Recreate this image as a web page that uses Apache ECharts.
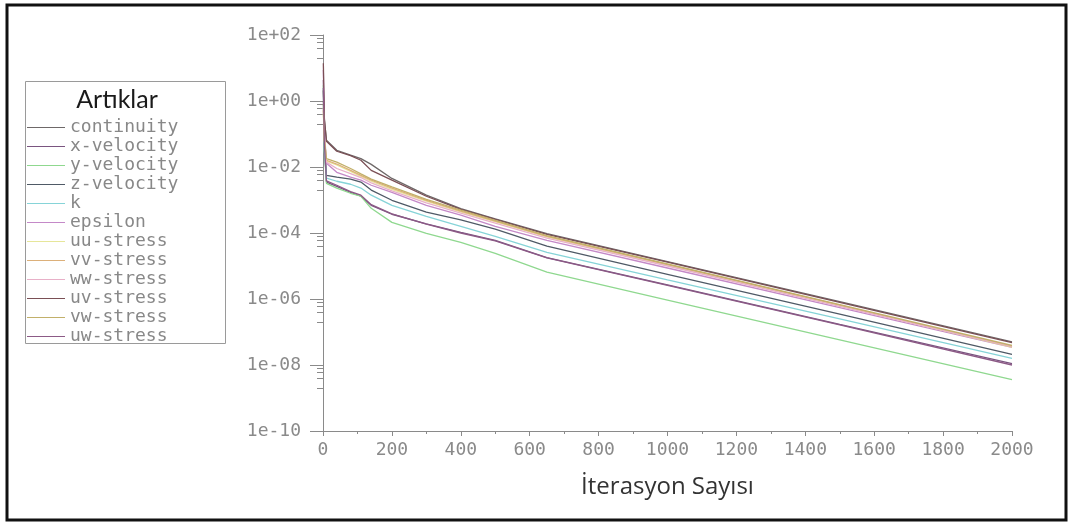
<!DOCTYPE html>
<html>
<head>
<meta charset="utf-8">
<script src="https://cdn.jsdelivr.net/npm/echarts@6/dist/echarts.min.js"></script>
<style>
  html, body { margin: 0; padding: 0; background: #fff; }
  #chart { width: 1070px; height: 524px; }
</style>
</head>
<body>
<div id="chart"></div>
<script>
const iters = [1, 4, 10, 40, 80, 110, 140, 200, 300, 400, 500, 650, 1000, 1500, 2000]

const continuity = [1.0, 0.26, 0.065, 0.032, 0.023, 0.018, 0.012, 0.0045, 1.4e-3, 5.5e-4, 2.7e-4, 9.5e-5, 1.35e-5, 8.3e-7, 5.0e-8]
const xVelocity = [4.3, 0.046, 0.0035, 0.0026, 0.0017, 0.0013, 6.9e-4, 3.7e-4, 1.9e-4, 1.05e-4, 6.0e-5, 1.8e-5, 2.7e-6, 1.7e-7, 1.1e-8]
const yVelocity = [3.0, 0.032, 0.0032, 0.0023, 0.0016, 0.0013, 5.6e-4, 2.1e-4, 9.8e-5, 5.2e-5, 2.4e-5, 6.5e-6, 9.3e-7, 5.8e-8, 3.6e-9]
const zVelocity = [2.1, 0.065, 0.0056, 0.0049, 0.0043, 0.0035, 0.002, 9.8e-4, 4.3e-4, 2.5e-4, 1.3e-4, 4.0e-5, 5.6e-6, 3.5e-7, 2.1e-8]
const kRes = [0.76, 0.032, 0.0046, 0.0037, 0.003, 0.0023, 0.0014, 6.9e-4, 3.2e-4, 1.6e-4, 7.9e-5, 2.6e-5, 3.8e-6, 2.5e-7, 1.6e-8]
const epsilon = [8.7, 0.13, 0.013, 0.0069, 0.0049, 0.004, 0.0028, 0.0017, 6.9e-4, 3.5e-4, 1.6e-4, 6.0e-5, 8.7e-6, 5.5e-7, 3.4e-8]
const uuStress = [0.4, 0.06, 0.015, 0.0115, 0.0074, 0.0052, 0.0037, 0.0021, 9.2e-4, 4.4e-4, 2.2e-4, 7.6e-5, 1.05e-5, 6.3e-7, 3.5e-8]
const vvStress = [0.52, 0.065, 0.016, 0.0123, 0.0079, 0.0056, 0.004, 0.0023, 9.8e-4, 4.6e-4, 2.3e-4, 7.9e-5, 1.1e-5, 6.5e-7, 3.6e-8]
const wwStress = [0.6, 0.09, 0.014, 0.009, 0.0063, 0.0048, 0.0033, 0.0019, 8.2e-4, 4.0e-4, 2.0e-4, 7.0e-5, 1.0e-5, 6.0e-7, 3.7e-8]
const uvStress = [14, 0.3, 0.06, 0.03, 0.022, 0.016, 0.0079, 0.004, 1.3e-3, 5.2e-4, 2.6e-4, 9.1e-5, 1.3e-5, 7.9e-7, 4.8e-8]
const vwStress = [0.8, 0.07, 0.018, 0.014, 0.009, 0.0062, 0.0043, 0.0025, 1.05e-3, 4.9e-4, 2.4e-4, 8.3e-5, 1.15e-5, 6.8e-7, 3.9e-8]
const uwStress = [2.5, 0.05, 0.0038, 0.0028, 0.0018, 0.0014, 7.2e-4, 3.8e-4, 1.85e-4, 1.0e-4, 5.8e-5, 1.75e-5, 2.6e-6, 1.65e-7, 1.0e-8]

const names = ['continuity', 'x-velocity', 'y-velocity', 'z-velocity', 'k', 'epsilon',
  'uu-stress', 'vv-stress', 'ww-stress', 'uv-stress', 'vw-stress', 'uw-stress']
const values = [continuity, xVelocity, yVelocity, zVelocity, kRes, epsilon,
  uuStress, vvStress, wwStress, uvStress, vwStress, uwStress]
const colors = ['#6e6868', '#7a5580', '#8fd88f', '#4f5a66', '#86d4d8', '#c489c8',
  '#e6e69a', '#dcb07a', '#e8b0c8', '#7a4f55', '#c2b06a', '#8c5a86']

// y tick labels (log axis)
const yTicks = [1e2, 1e0, 1e-2, 1e-4, 1e-6, 1e-8, 1e-10]
// small ticks: 2,4,6,8 x 10^(e-1) below each labelled tick
const yMinorTicks = []
yTicks.forEach(t => {
  if (t <= 1e-10) return
  ;[8, 6, 4, 2].forEach(m => yMinorTicks.push(m * t / 10))
})

const mono = '"DejaVu Sans Mono", monospace'
const axisGray = '#8a8a8a'

function fmtExp(v) {
  const e = Math.round(Math.log10(v))
  const s = e < 0 ? '-' : '+'
  const a = Math.abs(e)
  return '1e' + s + (a < 10 ? '0' + a : a)
}

const chart = echarts.init(document.getElementById('chart'))

chart.setOption({
  animation: false,
  backgroundColor: '#fff',
  grid: { left: 323, right: 58, top: 35, bottom: 93 },
  legend: {
    data: names,
    orient: 'vertical',
    left: 27,
    top: 118,
    padding: 0,
    icon: 'rect',
    itemWidth: 38,
    itemHeight: 1,
    itemGap: 0,
    textStyle: { fontFamily: mono, fontSize: 18, color: '#888', lineHeight: 19 },
  },
  xAxis: {
    type: 'value',
    min: 0,
    max: 2000,
    interval: 200,
    name: 'İterasyon Sayısı',
    nameLocation: 'middle',
    nameGap: 44,
    nameTextStyle: { fontFamily: '"Open Sans", sans-serif', fontSize: 24, color: '#333' },
    axisLine: { lineStyle: { color: axisGray } },
    axisTick: { length: 5, lineStyle: { color: axisGray } },
    minorTick: { show: true, splitNumber: 2, length: 3, lineStyle: { color: axisGray } },
    axisLabel: { formatter: v => String(v), fontFamily: mono, fontSize: 18, color: axisGray, margin: 10 },
    splitLine: { show: false },
  },
  yAxis: [
    {
      type: 'log',
      logBase: 10,
      min: 1e-10,
      max: 1e2,
      axisLine: { show: true, lineStyle: { color: axisGray } },
      axisTick: { show: true, length: 13, customValues: yTicks, lineStyle: { color: axisGray } },
      axisLabel: { customValues: yTicks, formatter: fmtExp, fontFamily: mono, fontSize: 18, color: axisGray, margin: 22 },
      splitLine: { show: false },
    },
    {
      type: 'log',
      logBase: 10,
      min: 1e-10,
      max: 1e2,
      position: 'left',
      axisLine: { show: false },
      axisTick: { show: true, length: 6, customValues: yMinorTicks, lineStyle: { color: axisGray } },
      axisLabel: { show: false },
      splitLine: { show: false },
    },
  ],
  graphic: [
    {
      type: 'rect',
      shape: { x: 7, y: 5, width: 1059, height: 515 },
      style: { fill: 'none', stroke: '#111', lineWidth: 3 },
    },
    {
      type: 'rect',
      shape: { x: 25.5, y: 81.5, width: 200, height: 262 },
      style: { fill: 'none', stroke: '#9a9a9a', lineWidth: 1 },
    },
    {
      type: 'text',
      x: 117,
      y: 100,
      style: {
        text: 'Artıklar',
        textAlign: 'center',
        textVerticalAlign: 'middle',
        font: '25px Lato, sans-serif',
        fill: '#1a1a1a',
      },
    },
  ],
  series: names.map((n, i) => ({
    name: n,
    type: 'line',
    yAxisIndex: 0,
    showSymbol: false,
    data: iters.map((x, j) => [x, values[i][j]]),
    lineStyle: { width: 1.3, color: colors[i] },
    itemStyle: { color: colors[i] },
  })),
})
</script>
</body>
</html>
